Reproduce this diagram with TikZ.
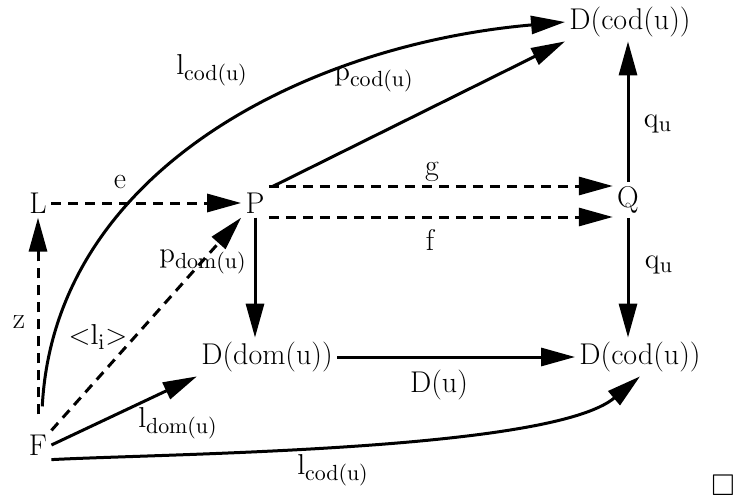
\documentclass[tikz,border=0pt]{standalone}
\usepackage{amsmath,amssymb}
\usetikzlibrary{arrows.meta}

\begin{document}
\begin{tikzpicture}[x=0.5pt,y=-0.5pt,>={Triangle[length=17pt,width=9pt]},
  font=\fontsize{15}{18}\selectfont,every node/.style={inner sep=2pt},
  arr/.style={->,line width=1.5pt},
  darr/.style={arr,dash pattern=on 5pt off 3.5pt}]
\useasboundingbox (0,0) rectangle (737,497);
% objects
\node (Dtop) at (630,22) {D(cod(u))};
\node (L) at (38,203) {L};
\node (P) at (255,203) {P};
\node (Q) at (628,200) {Q};
\node (Ddom) at (267,357) {D(dom(u))};
\node (Dbot) at (640,357) {D(cod(u))};
\node (F) at (38,445) {F};
% arrows
\draw[arr,shorten <=12pt] ([xshift=1.5pt]F.north) to[out=87,in=185] (Dtop.west);
\draw[arr,shorten <=2pt] (P.north east) -- (Dtop.south west);
\draw[darr] (L) -- (P);
\draw[darr] ([yshift=8.5pt]P.east) -- ([yshift=8.5pt]P.east -| Q.west);
\draw[darr] ([yshift=-7pt]P.east) -- ([yshift=-7pt]P.east -| Q.west);
\draw[arr] (Q) -- (Q |- Dtop.south);
\draw[arr] (Q) -- (Q |- Dbot.north);
\draw[arr] (P) -- (P |- Ddom.north);
\draw[darr,shorten <=8pt] (F) -- (L);
\draw[darr] (F.north east) -- (P.south west);
\draw[arr] (F.east) -- (Ddom.south west);
\draw[arr] (Ddom) -- (Dbot);
\draw[arr] (F.south east) to[out=3,in=220,looseness=0.5] (Dbot.south);
% labels
\node (lct) at (212,70) {$\mathrm{l}_{\mathrm{cod(u)}}$};
\node (pcod) at (374,80) {$\mathrm{p}_{\mathrm{cod(u)}}$};
\node (e) at (120,182) {e};
\node (g) at (432,172) {g};
\node (f) at (430,240) {f};
\node (qtop) at (658,124) {$\mathrm{q}_{\mathrm{u}}$};
\node (qbot) at (659,265) {$\mathrm{q}_{\mathrm{u}}$};
\node (pdom) at (203,262) {$\mathrm{p}_{\mathrm{dom(u)}}$};
\node (z) at (19,322) {z};
\node (li) at (98,337) {${<}\mathrm{l}_{\mathrm{i}}{>}$};
\node (ldom) at (178,423) {$\mathrm{l}_{\mathrm{dom(u)}}$};
\node (Du) at (439,385) {D(u)};
\node (lcb) at (333,470) {$\mathrm{l}_{\mathrm{cod(u)}}$};
\node (qed) at (723,485) {$\square$};
\end{tikzpicture}
\end{document}
